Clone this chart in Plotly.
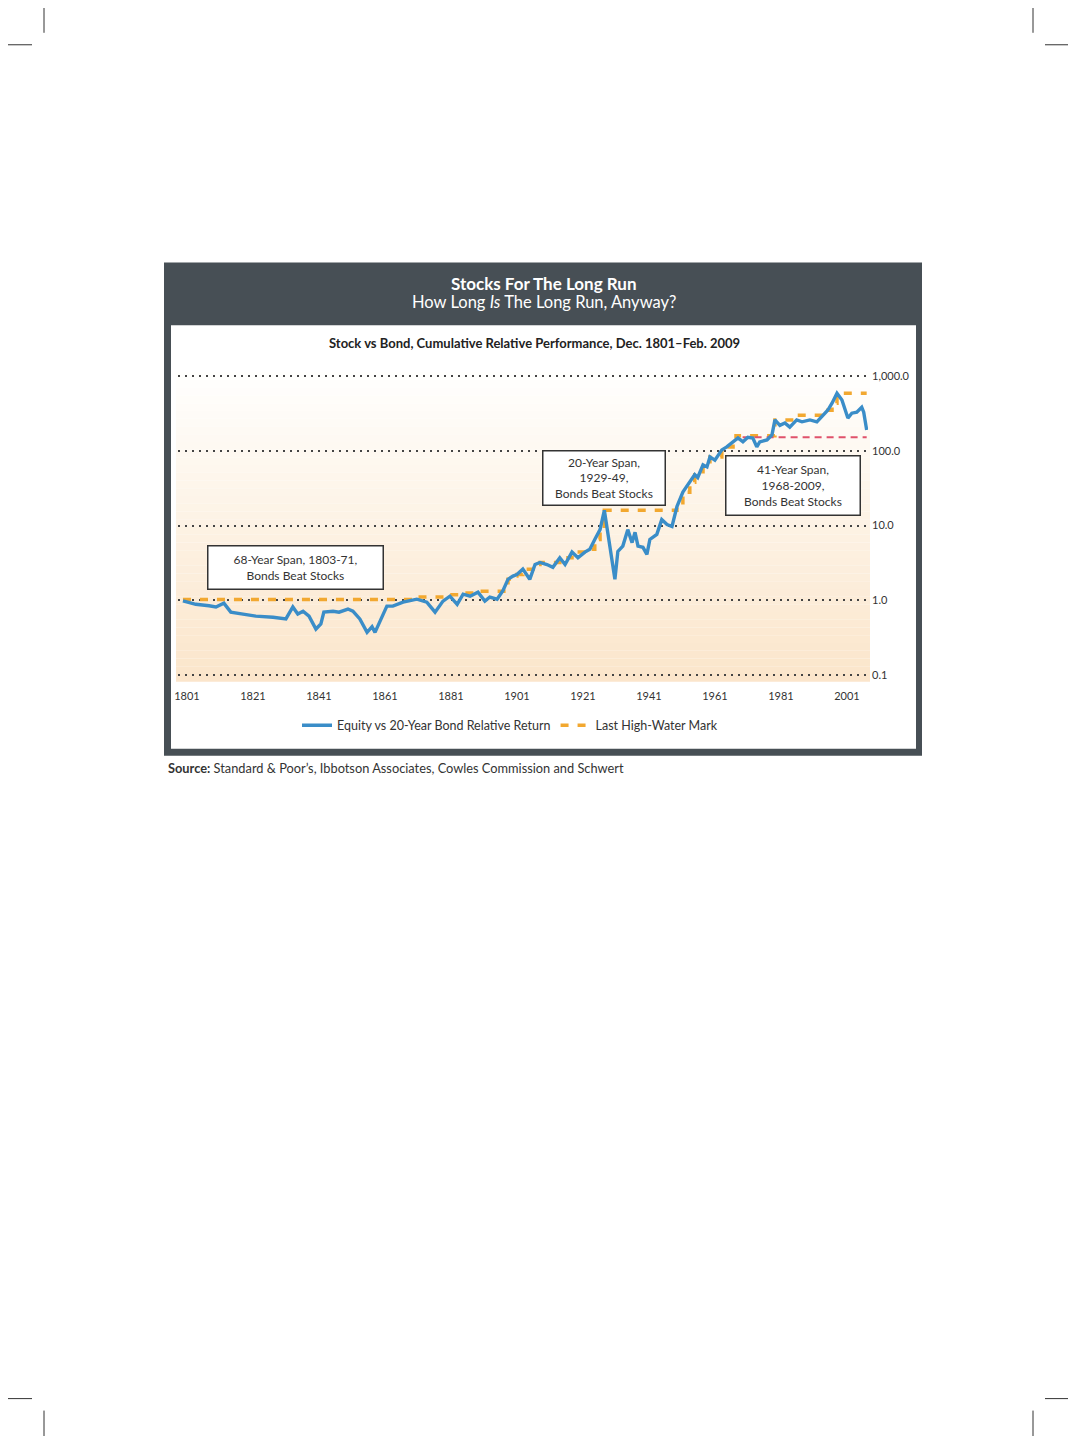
import plotly.graph_objects as go

# ---------------- data ----------------
equity_years = [
    1801.9, 1805.8, 1809.8, 1811.9, 1814.3, 1816.4, 1820.1, 1824.0, 1829.2, 1833.1,
    1835.2, 1836.7, 1838.3, 1840.1, 1842.2, 1843.7, 1844.6, 1847.4, 1849.2, 1851.9,
    1853.4, 1855.5, 1857.7, 1859.2, 1860.1, 1861.6, 1863.7, 1865.5, 1868.6, 1872.8,
    1875.8, 1878.3, 1880.7, 1882.8, 1885.0, 1886.8, 1888.9, 1891.3, 1893.4, 1894.9,
    1897.1, 1898.9, 1900.4, 1901.9, 1903.1, 1904.9, 1907.0, 1908.6, 1910.1, 1912.2,
    1914.0, 1916.1, 1917.7, 1919.8, 1921.6, 1923.7, 1925.2, 1926.7, 1928.3, 1929.6,
    1931.3, 1932.8, 1933.7, 1935.2, 1936.7, 1938.0, 1938.9, 1939.8, 1941.3, 1942.5,
    1943.4, 1945.5, 1947.0, 1948.6, 1950.1, 1951.6, 1953.4, 1955.5, 1957.0, 1957.9,
    1959.5, 1960.7, 1961.6, 1963.1, 1965.2, 1966.7, 1968.6, 1970.1, 1971.6, 1973.1,
    1974.6, 1975.8, 1976.7, 1978.9, 1980.4, 1981.3, 1982.8, 1984.3, 1985.8, 1987.9,
    1989.5, 1991.9, 1994.0, 1995.8, 1997.3, 1998.6, 2000.1, 2001.6, 2002.5, 2003.4,
    2004.6, 2006.1, 2007.6, 2008.2, 2009.1,
]
equity_values = [
    0.98, 0.88, 0.84, 0.81, 0.91, 0.69, 0.65, 0.61, 0.59, 0.56,
    0.81, 0.65, 0.71, 0.61, 0.41, 0.48, 0.69, 0.71, 0.69, 0.76,
    0.71, 0.56, 0.37, 0.44, 0.37, 0.53, 0.83, 0.83, 0.94, 1.03,
    0.94, 0.69, 0.97, 1.13, 0.88, 1.20, 1.13, 1.28, 0.97, 1.10,
    1.03, 1.35, 1.90, 2.10, 2.20, 2.60, 1.90, 3.00, 3.20, 3.00,
    2.75, 3.70, 3.00, 4.40, 3.70, 4.40, 4.80, 6.50, 8.80, 16.0,
    5.60, 1.90, 4.50, 5.30, 8.80, 5.90, 8.10, 5.30, 5.10, 4.10,
    6.50, 7.60, 12.0, 10.3, 9.70, 17.9, 28.0, 38.0, 48.0, 44.0,
    65.0, 61.0, 83.0, 75.0, 103.0, 113.0, 132.0, 149.0, 132.0, 152.0,
    149.0, 113.0, 132.0, 140.0, 164.0, 260.0, 220.0, 237.0, 208.0, 260.0,
    245.0, 260.0, 245.0, 300.0, 350.0, 435.0, 590.0, 480.0, 370.0, 275.0,
    320.0, 330.0, 385.0, 330.0, 190.0,
]

hwm_years = [
    1801.9, 1872.8, 1882.8, 1886.8, 1891.3, 1900.4, 1901.9, 1903.1, 1904.9, 1908.6,
    1910.1, 1916.1, 1919.8, 1925.2, 1926.7, 1928.3, 1929.6, 1951.6, 1953.4, 1955.5,
    1957.0, 1959.5, 1961.6, 1965.2, 1966.7, 1968.6, 1969.5, 1981.3, 1987.0, 1997.3,
    1998.6, 2000.1, 2009.1,
]
hwm_values = [
    1.02, 1.10, 1.18, 1.25, 1.32, 1.90, 2.10, 2.20, 2.60, 3.00,
    3.20, 3.70, 4.40, 4.80, 6.50, 8.80, 16.0, 17.9, 28.0, 38.0,
    48.0, 65.0, 83.0, 103.0, 113.0, 132.0, 160.0, 260.0, 300.0, 350.0,
    435.0, 590.0, 590.0,
]

mark_1968_years = [1971.5, 2009.1]
mark_1968_values = [152.0, 152.0]

x_tick_years = [1801, 1821, 1841, 1861, 1881, 1901, 1921, 1941, 1961, 1981, 2001]
y_tick_values = [0.1, 1, 10, 100, 1000]
y_tick_labels = ["0.1", "1.0", "10.0", "100.0", "1,000.0"]

title_main = "<b>Stocks For The Long Run</b>"
title_sub = "How Long <i>Is</i> The Long Run, Anyway?"
chart_title = "<b>Stock vs Bond, Cumulative Relative Performance, Dec. 1801–Feb. 2009</b>"
box_texts = [
    "68-Year Span, 1803-71,<br>Bonds Beat Stocks",
    "20-Year Span,<br>1929-49,<br>Bonds Beat Stocks",
    "41-Year Span,<br>1968-2009,<br>Bonds Beat Stocks",
]
source_text = "<b>Source:</b> Standard &amp; Poor’s, Ibbotson Associates, Cowles Commission and Schwert"

# ---------------- layout geometry (reference pixel coordinates) ----------------
OFF = 8                      # page body margin of the html page
W, H = 1076 - 2 * OFF, 1444 - 2 * OFF
DEC = 74.75                  # pixels per decade on the log axis
PAD = 0.03                   # extra range (decades) so edge gridlines are drawn
PL, PR = 178, 868
PT = 376 - PAD * DEC
PB = 675 + PAD * DEC
FONT = "Lato, 'Open Sans', sans-serif"
BLUE = "#3a8dc8"
ORANGE = "#f2a830"
PINK = "#e0516b"
DARK = "#474f55"


def px(xp):
    return (xp - PL) / (PR - PL)


def py(yp):
    return (PB - yp) / (PB - PT)


fig = go.Figure()

fig.add_trace(go.Scatter(
    x=hwm_years, y=hwm_values, mode="lines", name="Last High-Water Mark",
    line=dict(color=ORANGE, width=3.5, dash="8px,9px", shape="hv"),
    legendrank=2,
))
fig.add_trace(go.Scatter(
    x=mark_1968_years, y=mark_1968_values, mode="lines", showlegend=False,
    line=dict(color=PINK, width=2, dash="7px,5px"), hoverinfo="skip",
))
fig.add_trace(go.Scatter(
    x=equity_years, y=equity_values, mode="lines",
    name="Equity vs 20-Year Bond Relative Return",
    line=dict(color=BLUE, width=3.4), legendrank=1,
))

shapes = []
# panel frame
shapes.append(dict(type="rect", xref="paper", yref="paper", layer="below",
                   x0=px(164), x1=px(922), y0=py(756), y1=py(262),
                   fillcolor=DARK, line=dict(width=0)))
shapes.append(dict(type="rect", xref="paper", yref="paper", layer="below",
                   x0=px(171), x1=px(916), y0=py(749), y1=py(325),
                   fillcolor="white", line=dict(width=0)))
# plot background gradient (white -> peach)
n = 40
top, bot = 372, 682
c0 = (255, 255, 254)
c1 = (251, 229, 202)
for i in range(n):
    y_a = top + (bot - top) * i / n
    y_b = top + (bot - top) * (i + 1) / n
    t = (i + 0.5) / n
    col = tuple(round(c0[k] + (c1[k] - c0[k]) * t) for k in range(3))
    shapes.append(dict(type="rect", xref="paper", yref="paper", layer="below",
                       x0=px(176), x1=px(870), y0=py(y_b), y1=py(y_a),
                       fillcolor="rgb(%d,%d,%d)" % col, line=dict(width=0)))
# crop marks
for (x0, y0, x1, y1) in [(44, 0, 44, 32), (0, 44, 32, 44), (1033, 0, 1033, 32), (1045, 44, 1076, 44),
                         (44, 1412, 44, 1444), (0, 1400, 32, 1400), (1033, 1412, 1033, 1444),
                         (1045, 1400, 1076, 1400)]:
    shapes.append(dict(type="line", xref="paper", yref="paper",
                       x0=px(x0), x1=px(x1), y0=py(y0), y1=py(y1),
                       line=dict(color="#333", width=1)))

annotations = [
    dict(text=title_main, x=px(544), y=py(283), xref="paper", yref="paper", showarrow=False,
         font=dict(family=FONT, size=17, color="white"), xanchor="center", yanchor="middle"),
    dict(text=title_sub, x=px(544), y=py(302), xref="paper", yref="paper", showarrow=False,
         font=dict(family=FONT, size=16.5, color="white"), xanchor="center", yanchor="middle"),
    dict(text=chart_title, x=px(534), y=py(343), xref="paper", yref="paper", showarrow=False,
         font=dict(family=FONT, size=13, color="#222"), xanchor="center", yanchor="middle"),
    dict(text=source_text, x=px(166), y=py(768), xref="paper", yref="paper", showarrow=False,
         font=dict(family=FONT, size=12.8, color="#333"), xanchor="left", yanchor="middle"),
]
boxes = [((295, 568), 170, 38), ((604, 478), 117, 49), ((793, 485), 129, 54)]
for txt, ((cx, cy), bw, bh) in zip(box_texts, boxes):
    annotations.append(dict(text=txt, x=px(cx), y=py(cy), xref="paper", yref="paper",
                            showarrow=False, xanchor="center", yanchor="middle",
                            width=bw, height=bh, bgcolor="white", bordercolor="#333",
                            borderwidth=1.5, borderpad=2,
                            font=dict(family=FONT, size=12, color="#333")))

fig.update_layout(
    width=W, height=H,
    margin=dict(l=PL - OFF, r=W - (PR - OFF), t=PT - OFF, b=H - (PB - OFF), pad=0),
    paper_bgcolor="white", plot_bgcolor="rgba(0,0,0,0)",
    font=dict(family=FONT, size=11, color="#333"),
    shapes=shapes, annotations=annotations,
    showlegend=True,
    legend=dict(orientation="h", x=px(510), y=py(726), xanchor="center", yanchor="middle",
                font=dict(family=FONT, size=12.5, color="#333"), bgcolor="rgba(0,0,0,0)",
                itemwidth=30, tracegroupgap=0),
    hovermode=False,
)
fig.update_xaxes(range=[1800.4, 2009.5], tickvals=x_tick_years, showgrid=False,
                 zeroline=False, showline=False, ticks="", ticklabelstandoff=11,
                 ticklabelshift=7, tickfont=dict(family=FONT, size=11, color="#333"))
fig.update_yaxes(type="log", range=[-1 - PAD, 3 + PAD], tickvals=y_tick_values, ticktext=y_tick_labels,
                 side="right", showgrid=True, gridcolor="#444", gridwidth=1.6, griddash="2px,5px",
                 zeroline=False, showline=False, ticks="", ticklabelstandoff=3,
                 tickfont=dict(family=FONT, size=11, color="#333"))

fig.write_html("out.html")
